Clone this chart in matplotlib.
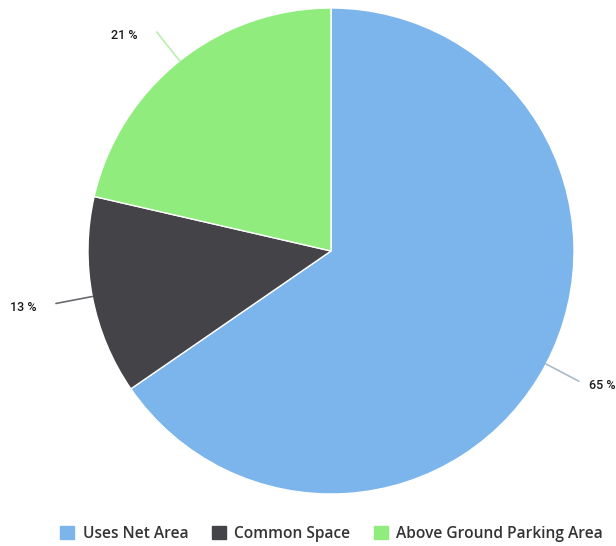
import numpy as np
import matplotlib
matplotlib.use('Agg')
import matplotlib.pyplot as plt

# data
labels = ['Uses Net Area', 'Common Space', 'Above Ground Parking Area']
values = [65.4, 13.2, 21.4]
colors = ['#7cb5ec', '#434348', '#90ed7d']
line_colors = ['#a9b9c9', '#6b6b70', '#b8efae']

W, H = 616, 546
fig = plt.figure(figsize=(W / 100, H / 100), dpi=100)
ax = fig.add_axes([0, 0, 1, 1])

cx, cy, r = 331, H - 251, 243
wedges, _ = ax.pie(values, colors=colors, startangle=90, counterclock=False,
                   center=(cx, cy), radius=r, frame=True,
                   wedgeprops=dict(edgecolor='white', linewidth=1))
ax.set_xlim(0, W)
ax.set_ylim(0, H)
ax.set_aspect('equal')
ax.axis('off')

total = sum(values)
for w, v, lc in zip(wedges, values, line_colors):
    ang = np.deg2rad((w.theta1 + w.theta2) / 2)
    dx, dy = np.cos(ang), np.sin(ang)
    x0, y0 = cx + r * dx, cy + r * dy
    x1, y1 = cx + (r + 37) * dx, cy + (r + 37) * dy
    side = 1 if dx > 0 else -1
    gap = 10 if side > 0 else 19
    ax.plot([x0, x1], [y0, y1], color=lc, lw=1.2, solid_capstyle='round')
    ax.text(x1 + side * gap, y1 - 4, '%d %%' % round(v / total * 100),
            ha='left' if side > 0 else 'right', va='center',
            fontsize=9, fontweight='medium', color='#1a1a1a', family='Roboto')

# legend at the bottom
handles = [plt.Rectangle((0, 0), 1, 1, color=c) for c in colors]
leg = fig.legend(handles, labels, loc='lower center', bbox_to_anchor=(0.538, -0.018),
                 ncol=3, frameon=False, handlelength=0.9, handleheight=0.9,
                 handletextpad=0.55, columnspacing=1.5,
                 prop=dict(family='Open Sans', weight='semibold', size=11.2))
for t in leg.get_texts():
    t.set_color('#333333')

fig.savefig('out.png', dpi=100)
